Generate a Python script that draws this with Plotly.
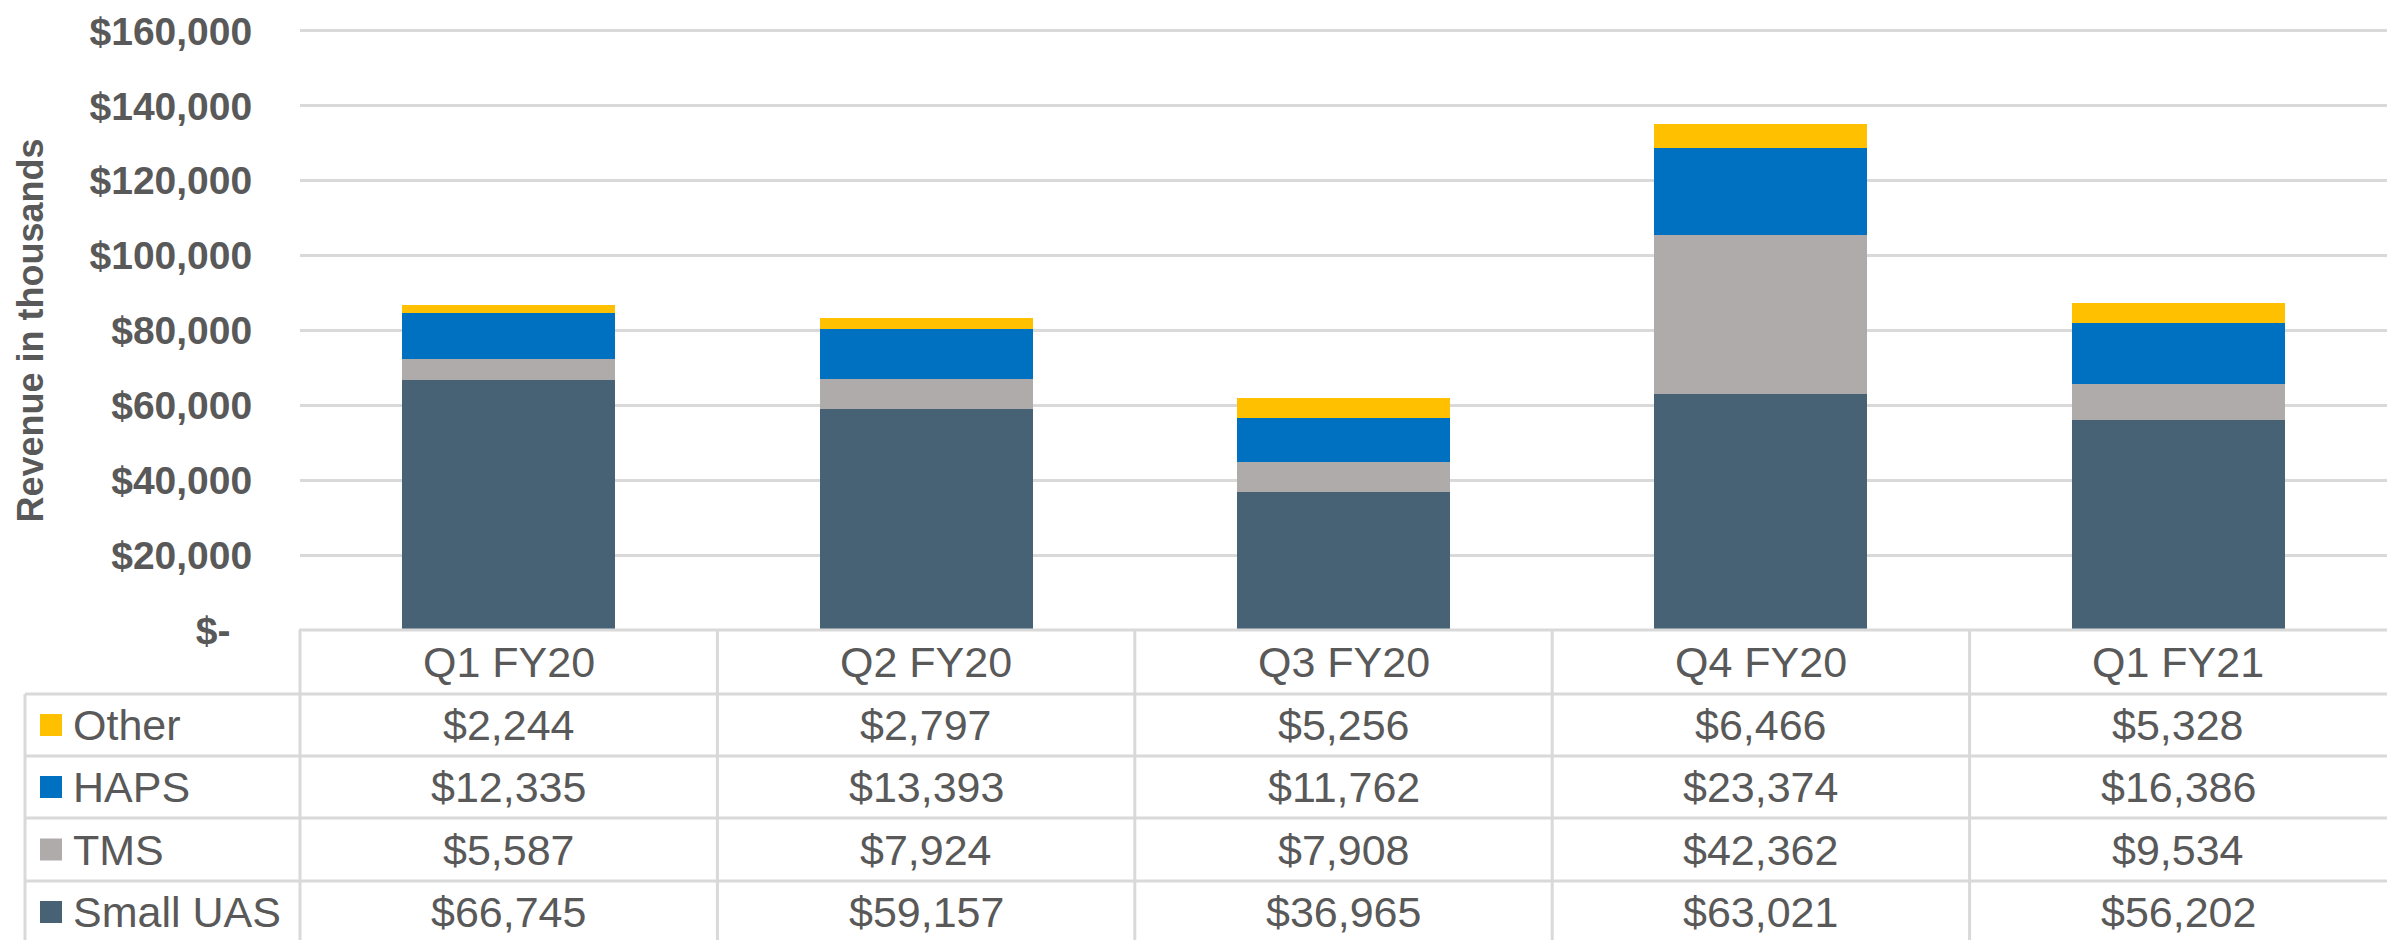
import plotly.graph_objects as go

# ---- data ----
quarters = ["Q1 FY20", "Q2 FY20", "Q3 FY20", "Q4 FY20", "Q1 FY21"]
small_uas = [66745, 59157, 36965, 63021, 56202]
tms = [5587, 7924, 7908, 42362, 9534]
haps = [12335, 13393, 11762, 23374, 16386]
other = [2244, 2797, 5256, 6466, 5328]
series_names = ["Small UAS", "TMS", "HAPS", "Other"]
y_tick_vals = [0, 20000, 40000, 60000, 80000, 100000, 120000, 140000, 160000]
y_tick_text = ["$-\u00a0\u00a0", "$20,000", "$40,000", "$60,000", "$80,000",
               "$100,000", "$120,000", "$140,000", "$160,000"]

# ---- styles ----
W, H = 2387, 940
colors = {"Small UAS": "#476274", "TMS": "#AEABAA", "HAPS": "#0070C0", "Other": "#FFC000"}
txt = "#595959"
grid = "#D9D9D9"
FONT = "Liberation Sans, Arial, sans-serif"

def px(x):
    return x / W

def py(y):
    return 1 - y / H

plot_left, y160_px, plot_bottom = 300, 31, 630
y_max = 161000
plot_top = plot_bottom - (plot_bottom - y160_px) * y_max / 160000

values = {"Small UAS": small_uas, "TMS": tms, "HAPS": haps, "Other": other}

fig = go.Figure()
for name in series_names:
    fig.add_trace(go.Bar(
        x=list(range(len(quarters))), y=values[name], name=name,
        marker=dict(color=colors[name], line=dict(width=0)),
        hoverinfo="skip",
    ))

shapes = []
annotations = []

row_lines = [694, 756, 818, 881, 943]
row_order = ["Other", "HAPS", "TMS", "Small UAS"]
legend_left = 25

# table top line (x-axis baseline)
shapes.append(dict(type="line", xref="paper", yref="paper",
                   x0=px(plot_left - 1), x1=1, y0=py(plot_bottom), y1=py(plot_bottom),
                   line=dict(color=grid, width=3)))
for ry in row_lines:
    shapes.append(dict(type="line", xref="paper", yref="paper",
                       x0=px(legend_left), x1=1, y0=py(ry), y1=py(ry),
                       line=dict(color=grid, width=3)))
# vertical lines
shapes.append(dict(type="line", xref="x domain", yref="paper", x0=0, x1=0,
                   y0=py(plot_bottom), y1=0, line=dict(color=grid, width=3)))
for i in range(1, len(quarters)):
    shapes.append(dict(type="line", xref="x", yref="paper", x0=i - 0.5, x1=i - 0.5,
                       y0=py(plot_bottom), y1=0, line=dict(color=grid, width=3)))
shapes.append(dict(type="line", xref="paper", yref="paper", x0=px(legend_left), x1=px(legend_left),
                   y0=py(row_lines[0]), y1=0, line=dict(color=grid, width=3)))

# header labels
for i, q in enumerate(quarters):
    annotations.append(dict(x=i, xref="x", y=py(662), yref="paper", text=q,
                            showarrow=False, xanchor="center", yanchor="middle",
                            font=dict(family=FONT, size=43, color=txt)))

# rows
for r, name in enumerate(row_order):
    top, bot = row_lines[r], row_lines[r + 1]
    cy = (top + bot) / 2
    shapes.append(dict(type="rect", xref="paper", yref="paper",
                       x0=px(40), x1=px(62), y0=py(cy - 11), y1=py(cy + 11),
                       fillcolor=colors[name], line=dict(width=0)))
    annotations.append(dict(x=px(71), xref="paper", y=py(cy), yref="paper", text=name,
                            showarrow=False, xanchor="left", yanchor="middle",
                            font=dict(family=FONT, size=43, color=txt)))
    for i, v in enumerate(values[name]):
        annotations.append(dict(x=i, xref="x", y=py(cy), yref="paper", text=f"${v:,}",
                                showarrow=False, xanchor="center", yanchor="middle",
                                font=dict(family=FONT, size=43, color=txt)))

# y-axis title
annotations.append(dict(x=px(30), xref="paper", y=py((y160_px + plot_bottom) / 2), yref="paper",
                        text="<b>Revenue in thousands</b>", textangle=-90, showarrow=False,
                        xanchor="center", yanchor="middle",
                        font=dict(family=FONT, size=36, color=txt)))

fig.update_layout(
    width=W, height=H, margin=dict(l=0, r=0, t=0, b=0, autoexpand=False),
    barmode="stack", bargap=0.49, showlegend=False,
    paper_bgcolor="white", plot_bgcolor="white",
    shapes=shapes, annotations=annotations,
    xaxis=dict(domain=[px(plot_left), 1], range=[-0.5, len(quarters) - 0.5],
               showticklabels=False, showgrid=False, zeroline=False, ticks="",
               automargin=False),
    yaxis=dict(domain=[py(plot_bottom), py(plot_top)], range=[0, y_max],
               tickvals=y_tick_vals, ticktext=y_tick_text,
               showgrid=True, gridcolor=grid, gridwidth=3, zeroline=False,
               ticks="outside", ticklen=39, tickcolor="rgba(0,0,0,0)",
               automargin=False,
               tickfont=dict(family=FONT, size=39, color=txt, weight="bold")),
)

fig.write_html("out.html", config={"displayModeBar": False},
               post_script="document.body.style.margin='0';document.body.style.overflow='hidden';")
